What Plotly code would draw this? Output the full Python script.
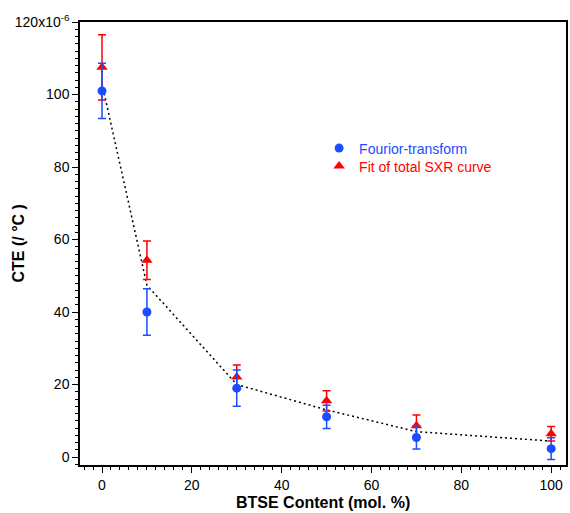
import plotly.graph_objects as go

# ---- data ----
btse = [0, 10, 30, 50, 70, 100]

ft_cte = [101.0, 40.0, 19.0, 11.1, 5.4, 2.3]
ft_err = [7.6, 6.4, 5.0, 3.2, 3.2, 3.0]

sxr_cte = [107.5, 54.3, 22.1, 15.5, 8.6, 6.4]
sxr_err = [9.0, 5.3, 3.3, 2.8, 3.0, 2.0]

guide_x = [0, 10, 30, 50, 70, 100]
guide_y = [103.0, 47.4, 20.0, 13.0, 7.0, 4.4]

y_tickvals = [0, 20, 40, 60, 80, 100, 120]
y_ticktext = ["0", "20", "40", "60", "80", "100", "120x10<sup>-6</sup>"]
x_tickvals = [0, 20, 40, 60, 80, 100]

BLUE = "#1a4dff"
RED = "#ff0000"
FONT = "Arial, Liberation Sans, sans-serif"

fig = go.Figure()

fig.add_trace(go.Scatter(
    x=guide_x, y=guide_y, mode="lines",
    line=dict(color="black", width=1.5, dash="2px,3px"),
    showlegend=False, hoverinfo="skip",
))

fig.add_trace(go.Scatter(
    x=btse, y=sxr_cte, mode="markers",
    name=f"<span style='color:{RED}'>Fit of total SXR curve</span>",
    marker=dict(symbol="triangle-up", size=10, color=RED),
    error_y=dict(type="data", array=sxr_err, visible=True,
                 color=RED, thickness=1.5, width=4),
    legend="legend2",
))

fig.add_trace(go.Scatter(
    x=btse, y=ft_cte, mode="markers",
    name=f"<span style='color:{BLUE}'>Fourior-transform</span>",
    marker=dict(symbol="circle", size=9, color=BLUE),
    error_y=dict(type="data", array=ft_err, visible=True,
                 color=BLUE, thickness=1.5, width=4),
    legend="legend",
))

legend_style = dict(
    xanchor="left", yanchor="top",
    bgcolor="rgba(0,0,0,0)", borderwidth=0,
    font=dict(size=14, family=FONT),
)

fig.update_layout(
    width=570, height=513,
    margin=dict(l=80, r=4, t=22, b=48, autoexpand=False),
    paper_bgcolor="white", plot_bgcolor="white",
    font=dict(family=FONT, size=14, color="black"),
    legend=dict(x=0.492, y=0.7506, **legend_style),
    legend2=dict(x=0.492, y=0.7100, **legend_style),
    annotations=[
        dict(text="<b>CTE (/ °C )</b>", xref="paper", yref="paper",
             x=0, y=0.5, xanchor="center", yanchor="middle",
             xshift=-62, textangle=-90, showarrow=False,
             font=dict(size=16, family=FONT, color="black")),
        dict(text="<b>BTSE Content (mol. %)</b>", xref="paper", yref="paper",
             x=0.5, y=0, xanchor="center", yanchor="middle",
             yshift=-37, showarrow=False,
             font=dict(size=16, family=FONT, color="black")),
    ],
)

fig.update_xaxes(
    range=[-4.9, 103.3], automargin=False,
    showline=True, linecolor="black", linewidth=1.5, mirror=True,
    showgrid=False, zeroline=False,
    tickmode="array", tickvals=x_tickvals,
    ticks="outside", ticklen=6, tickwidth=1, tickcolor="black",
    minor=dict(tickmode="linear", tick0=0, dtick=2, ticks="outside",
               ticklen=3, tickwidth=1, tickcolor="black", showgrid=False),
    tickfont=dict(size=14),
)

fig.update_yaxes(
    range=[-2.2, 120], automargin=False,
    showline=True, linecolor="black", linewidth=1.5, mirror=True,
    showgrid=False, zeroline=False,
    tickmode="array", tickvals=y_tickvals, ticktext=y_ticktext,
    ticks="outside", ticklen=6, tickwidth=1, tickcolor="black",
    minor=dict(tickmode="linear", tick0=0, dtick=2, ticks="outside",
               ticklen=3, tickwidth=1, tickcolor="black", showgrid=False),
    tickfont=dict(size=14),
)

fig.write_html(
    "out.html",
    config={"displayModeBar": False},
    post_script="document.body.style.margin='0px';",
)
